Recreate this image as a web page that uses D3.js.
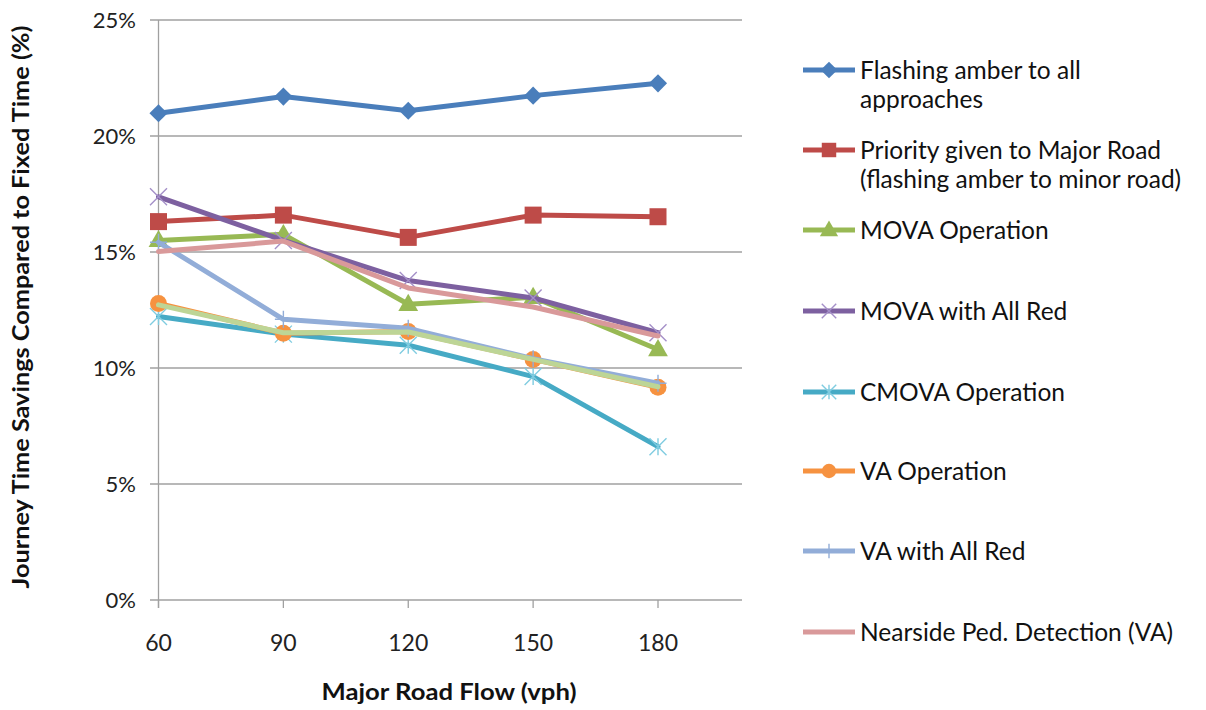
<!DOCTYPE html>
<html>
<head>
<meta charset="utf-8">
<script src="https://cdn.jsdelivr.net/npm/d3@7"></script>
<style>
  html, body { margin: 0; padding: 0; background: #fff; }
  svg { display: block; font-family: Lato, "Open Sans", sans-serif; }
</style>
</head>
<body>
<svg id="chart" width="1206" height="710"></svg>
<script>
const categories = ["60", "90", "120", "150", "180"];
const yTicks = [0, 5, 10, 15, 20, 25];

const seriesNames = [
  ["Flashing amber to all", "approaches"],
  ["Priority given to Major Road", "(flashing amber to minor road)"],
  ["MOVA Operation"],
  ["MOVA with All Red"],
  ["CMOVA Operation"],
  ["VA Operation"],
  ["VA with All Red"],
  ["Nearside Ped. Detection (VA)"]
];

const flashingAll   = [20.98, 21.70, 21.09, 21.74, 22.27];
const priorityMajor = [16.31, 16.59, 15.63, 16.59, 16.52];
const movaOp        = [15.50, 15.76, 12.75, 13.05, 10.80];
const movaAllRed    = [17.38, 15.50, 13.77, 13.02, 11.52];
const cmovaOp       = [12.22, 11.46, 10.98, 9.63, 6.61];
const vaOp          = [12.78, 11.50, 11.57, 10.37, 9.17];
const vaAllRed      = [15.42, 12.10, 11.71, 10.40, 9.34];
const nearsidePed   = [15.02, 15.47, 13.45, 12.63, 11.38];
const unlabelled    = [12.72, 11.52, 11.55, 10.37, 9.19];

const seriesValues = [flashingAll, priorityMajor, movaOp, movaAllRed, cmovaOp, vaOp, vaAllRed, nearsidePed];
const seriesColors = ["#4A7EBB", "#BE4B48", "#98B954", "#7D60A0", "#46AAC5", "#F69240", "#92ADD8", "#D9999A"];
const markerTypes  = ["diamond", "square", "triangle", "x", "asterisk", "circle", "plus", "none"];
const markerColors = ["#4A7EBB", "#BE4B48", "#98B954", "#A48FC8", "#7FCCE0", "#F69240", "#92ADD8", "none"];

const svg = d3.select("#chart");
const x = d3.scalePoint().domain(categories).range([158.5, 658]);
const y = d3.scaleLinear().domain([0, 25]).range([600, 20]);
const plotRight = 742;

// gridlines
svg.append("g").selectAll("line").data(yTicks).join("line")
  .attr("x1", 150).attr("x2", plotRight)
  .attr("y1", d => y(d)).attr("y2", d => y(d))
  .attr("stroke", "#A0A0A0").attr("stroke-width", 1.3);

// y axis line
svg.append("line").attr("x1", x("60")).attr("x2", x("60"))
  .attr("y1", y(25)).attr("y2", 608)
  .attr("stroke", "#A0A0A0").attr("stroke-width", 1.3);

// x ticks
svg.append("g").selectAll("line").data(categories).join("line")
  .attr("x1", d => x(d)).attr("x2", d => x(d))
  .attr("y1", y(0)).attr("y2", 608)
  .attr("stroke", "#A0A0A0").attr("stroke-width", 1.3);

// y tick labels
svg.append("g").selectAll("text").data(yTicks).join("text")
  .attr("x", 136).attr("y", d => y(d))
  .attr("dy", "0.35em").attr("text-anchor", "end")
  .attr("font-size", 22).attr("fill", "#222")
  .text(d => d + "%");

// x tick labels
svg.append("g").selectAll("text").data(categories).join("text")
  .attr("x", d => x(d)).attr("y", 643)
  .attr("dy", "0.35em").attr("text-anchor", "middle")
  .attr("font-size", 23).attr("fill", "#222")
  .text(d => d);

// axis titles
svg.append("text").attr("x", 449).attr("y", 692).attr("dy", "0.35em")
  .attr("text-anchor", "middle").attr("font-size", 23).attr("font-weight", "bold")
  .attr("textLength", 255).attr("lengthAdjust", "spacingAndGlyphs")
  .attr("fill", "#111").text("Major Road Flow (vph)");

svg.append("text").attr("transform", "translate(21,307) rotate(-90)")
  .attr("dy", "0.35em").attr("text-anchor", "middle")
  .attr("font-size", 23).attr("font-weight", "bold").attr("fill", "#111")
  .attr("textLength", 563).attr("lengthAdjust", "spacingAndGlyphs")
  .text("Journey Time Savings Compared to Fixed Time  (%)");

function drawMarker(g, type, cx, cy, color, scale) {
  const s = scale || 1;
  if (type === "diamond") {
    g.append("path").attr("d", d3.symbol(d3.symbolDiamond2 || d3.symbolDiamond, 210 * s)())
      .attr("transform", `translate(${cx},${cy})`).attr("fill", color);
  } else if (type === "square") {
    g.append("rect").attr("x", cx - 8.5 * s).attr("y", cy - 8.5 * s)
      .attr("width", 17 * s).attr("height", 17 * s).attr("fill", color);
  } else if (type === "triangle") {
    g.append("path").attr("d", d3.symbol(d3.symbolTriangle, 170 * s)())
      .attr("transform", `translate(${cx},${cy + 1})`).attr("fill", color);
  } else if (type === "x") {
    const r = 8.5 * s;
    g.append("path").attr("d", `M${cx - r},${cy - r}L${cx + r},${cy + r}M${cx - r},${cy + r}L${cx + r},${cy - r}`)
      .attr("stroke", color).attr("stroke-width", 1.4).attr("fill", "none");
  } else if (type === "asterisk") {
    const r = 8.5 * s;
    g.append("path").attr("d", `M${cx - r},${cy - r}L${cx + r},${cy + r}M${cx - r},${cy + r}L${cx + r},${cy - r}M${cx},${cy - r}L${cx},${cy + r}`)
      .attr("stroke", color).attr("stroke-width", 1.4).attr("fill", "none");
  } else if (type === "circle") {
    g.append("circle").attr("cx", cx).attr("cy", cy).attr("r", 8.5 * s).attr("fill", color);
  } else if (type === "plus") {
    const r = 8.5 * s;
    g.append("path").attr("d", `M${cx - r},${cy}L${cx + r},${cy}M${cx},${cy - r}L${cx},${cy + r}`)
      .attr("stroke", color).attr("stroke-width", 1.4).attr("fill", "none");
  }
}

const line = d3.line().x((d, i) => x(categories[i])).y(d => y(d));
const plot = svg.append("g");

seriesValues.forEach((vals, si) => {
  const g = plot.append("g");
  g.append("path").datum(vals).attr("d", line)
    .attr("fill", "none").attr("stroke", seriesColors[si])
    .attr("stroke-width", 5).attr("stroke-linejoin", "round").attr("stroke-linecap", "round");
  vals.forEach((v, i) => drawMarker(g, markerTypes[si], x(categories[i]), y(v), markerColors[si]));
});

// unlabelled light-green series drawn on top
plot.append("path").datum(unlabelled).attr("d", line)
  .attr("fill", "none").attr("stroke", "#BDD596")
  .attr("stroke-width", 5).attr("stroke-linejoin", "round").attr("stroke-linecap", "round");

// legend
const legendY = [70, 150, 230, 311, 392, 471, 551, 632];
const legend = svg.append("g");
seriesNames.forEach((lines, si) => {
  const ly = legendY[si];
  const g = legend.append("g");
  g.append("line").attr("x1", 803).attr("x2", 855).attr("y1", ly).attr("y2", ly)
    .attr("stroke", seriesColors[si]).attr("stroke-width", 5);
  drawMarker(g, markerTypes[si], 829, ly, markerColors[si], 0.85);
  lines.forEach((t, li) => {
    g.append("text").attr("x", 860).attr("y", ly + li * 29).attr("dy", "0.35em")
      .attr("font-size", 24.5).attr("fill", "#111").text(t);
  });
});
</script>
</body>
</html>
